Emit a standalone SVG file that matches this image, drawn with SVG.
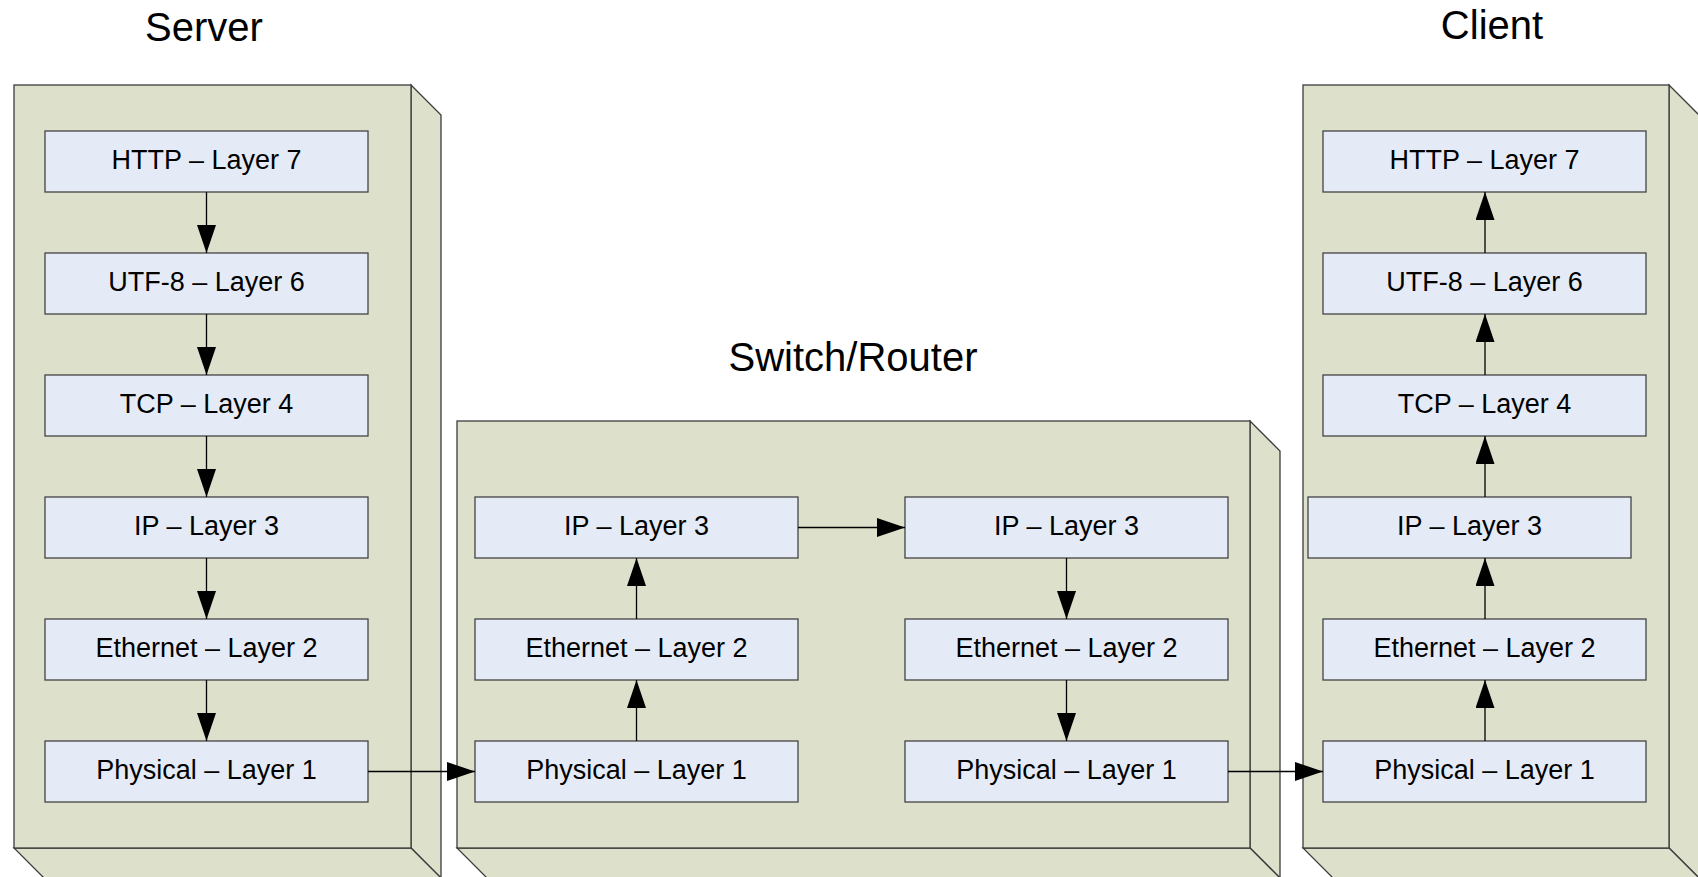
<svg xmlns="http://www.w3.org/2000/svg" width="1698" height="877" viewBox="0 0 1698 877">
  <style>
    .shell { fill: #dde0ca; stroke: #3c3c3c; stroke-width: 1.3; stroke-linejoin: miter; }
    .layer { fill: #e5ebf6; stroke: #444444; stroke-width: 1.3; }
    .label { font-family: "Liberation Sans", Arial, sans-serif; font-size: 27px; fill: #000; text-anchor: middle; }
    .title { font-family: "Liberation Sans", Arial, sans-serif; font-size: 40px; fill: #000; text-anchor: middle; }
    .link { fill: none; stroke: #000; stroke-width: 1.3; marker-end: url(#head); }
  </style>
  <defs>
    <marker id="head" markerUnits="userSpaceOnUse" markerWidth="29" markerHeight="20" refX="28" refY="9.5" orient="auto">
      <path d="M0,0 L28,9.5 L0,19 Z" fill="#000"/>
    </marker>
  </defs>

  <rect width="1698" height="877" fill="#fff"/>

  <!-- Titles -->
  <text class="title" x="204" y="41">Server</text>
  <text class="title" x="853" y="371">Switch/Router</text>
  <text class="title" x="1492" y="39">Client</text>

  <!-- Server enclosure -->
  <g id="server">
    <polygon class="shell" points="411,85 441,115 441,878 411,848"/>
    <polygon class="shell" points="14,848 411,848 441,878 44,878"/>
    <rect class="shell" x="14" y="85" width="397" height="763"/>
    <g id="server-l7"><rect class="layer" x="45" y="131" width="323" height="61"/><text class="label" x="206.5" y="169">HTTP – Layer 7</text></g>
    <g id="server-l6"><rect class="layer" x="45" y="253" width="323" height="61"/><text class="label" x="206.5" y="291">UTF-8 – Layer 6</text></g>
    <g id="server-l4"><rect class="layer" x="45" y="375" width="323" height="61"/><text class="label" x="206.5" y="413">TCP – Layer 4</text></g>
    <g id="server-l3"><rect class="layer" x="45" y="497" width="323" height="61"/><text class="label" x="206.5" y="535">IP – Layer 3</text></g>
    <g id="server-l2"><rect class="layer" x="45" y="619" width="323" height="61"/><text class="label" x="206.5" y="657">Ethernet – Layer 2</text></g>
    <g id="server-l1"><rect class="layer" x="45" y="741" width="323" height="61"/><text class="label" x="206.5" y="779">Physical – Layer 1</text></g>
  </g>

  <!-- Switch/Router enclosure -->
  <g id="switch">
    <polygon class="shell" points="1250,421 1280,451 1280,878 1250,848"/>
    <polygon class="shell" points="457,848 1250,848 1280,878 487,878"/>
    <rect class="shell" x="457" y="421" width="793" height="427"/>
    <g id="switch-in-l3"><rect class="layer" x="475" y="497" width="323" height="61"/><text class="label" x="636.5" y="535">IP – Layer 3</text></g>
    <g id="switch-in-l2"><rect class="layer" x="475" y="619" width="323" height="61"/><text class="label" x="636.5" y="657">Ethernet – Layer 2</text></g>
    <g id="switch-in-l1"><rect class="layer" x="475" y="741" width="323" height="61"/><text class="label" x="636.5" y="779">Physical – Layer 1</text></g>
    <g id="switch-out-l3"><rect class="layer" x="905" y="497" width="323" height="61"/><text class="label" x="1066.5" y="535">IP – Layer 3</text></g>
    <g id="switch-out-l2"><rect class="layer" x="905" y="619" width="323" height="61"/><text class="label" x="1066.5" y="657">Ethernet – Layer 2</text></g>
    <g id="switch-out-l1"><rect class="layer" x="905" y="741" width="323" height="61"/><text class="label" x="1066.5" y="779">Physical – Layer 1</text></g>
  </g>

  <!-- Client enclosure -->
  <g id="client">
    <polygon class="shell" points="1669,85 1699,115 1699,878 1669,848"/>
    <polygon class="shell" points="1303,848 1669,848 1699,878 1333,878"/>
    <rect class="shell" x="1303" y="85" width="366" height="763"/>
    <g id="client-l7"><rect class="layer" x="1323" y="131" width="323" height="61"/><text class="label" x="1484.5" y="169">HTTP – Layer 7</text></g>
    <g id="client-l6"><rect class="layer" x="1323" y="253" width="323" height="61"/><text class="label" x="1484.5" y="291">UTF-8 – Layer 6</text></g>
    <g id="client-l4"><rect class="layer" x="1323" y="375" width="323" height="61"/><text class="label" x="1484.5" y="413">TCP – Layer 4</text></g>
    <g id="client-l3"><rect class="layer" x="1308" y="497" width="323" height="61"/><text class="label" x="1469.5" y="535">IP – Layer 3</text></g>
    <g id="client-l2"><rect class="layer" x="1323" y="619" width="323" height="61"/><text class="label" x="1484.5" y="657">Ethernet – Layer 2</text></g>
    <g id="client-l1"><rect class="layer" x="1323" y="741" width="323" height="61"/><text class="label" x="1484.5" y="779">Physical – Layer 1</text></g>
  </g>

  <!-- Connectors -->
  <g id="connectors">
    <!-- server stack, downwards -->
    <line class="link" x1="206.5" y1="192" x2="206.5" y2="253"/>
    <line class="link" x1="206.5" y1="314" x2="206.5" y2="375"/>
    <line class="link" x1="206.5" y1="436" x2="206.5" y2="497"/>
    <line class="link" x1="206.5" y1="558" x2="206.5" y2="619"/>
    <line class="link" x1="206.5" y1="680" x2="206.5" y2="741"/>
    <!-- wire into switch -->
    <line class="link" x1="368" y1="771.5" x2="475" y2="771.5"/>
    <!-- switch ingress, upwards -->
    <line class="link" x1="636.5" y1="741" x2="636.5" y2="680"/>
    <line class="link" x1="636.5" y1="619" x2="636.5" y2="558"/>
    <!-- routing across -->
    <line class="link" x1="798" y1="527.5" x2="905" y2="527.5"/>
    <!-- switch egress, downwards -->
    <line class="link" x1="1066.5" y1="558" x2="1066.5" y2="619"/>
    <line class="link" x1="1066.5" y1="680" x2="1066.5" y2="741"/>
    <!-- wire into client -->
    <line class="link" x1="1228" y1="771.5" x2="1323" y2="771.5"/>
    <!-- client stack, upwards -->
    <line class="link" x1="1485" y1="741" x2="1485" y2="680"/>
    <line class="link" x1="1485" y1="619" x2="1485" y2="558"/>
    <line class="link" x1="1485" y1="497" x2="1485" y2="436"/>
    <line class="link" x1="1485" y1="375" x2="1485" y2="314"/>
    <line class="link" x1="1485" y1="253" x2="1485" y2="192"/>
  </g>
</svg>
